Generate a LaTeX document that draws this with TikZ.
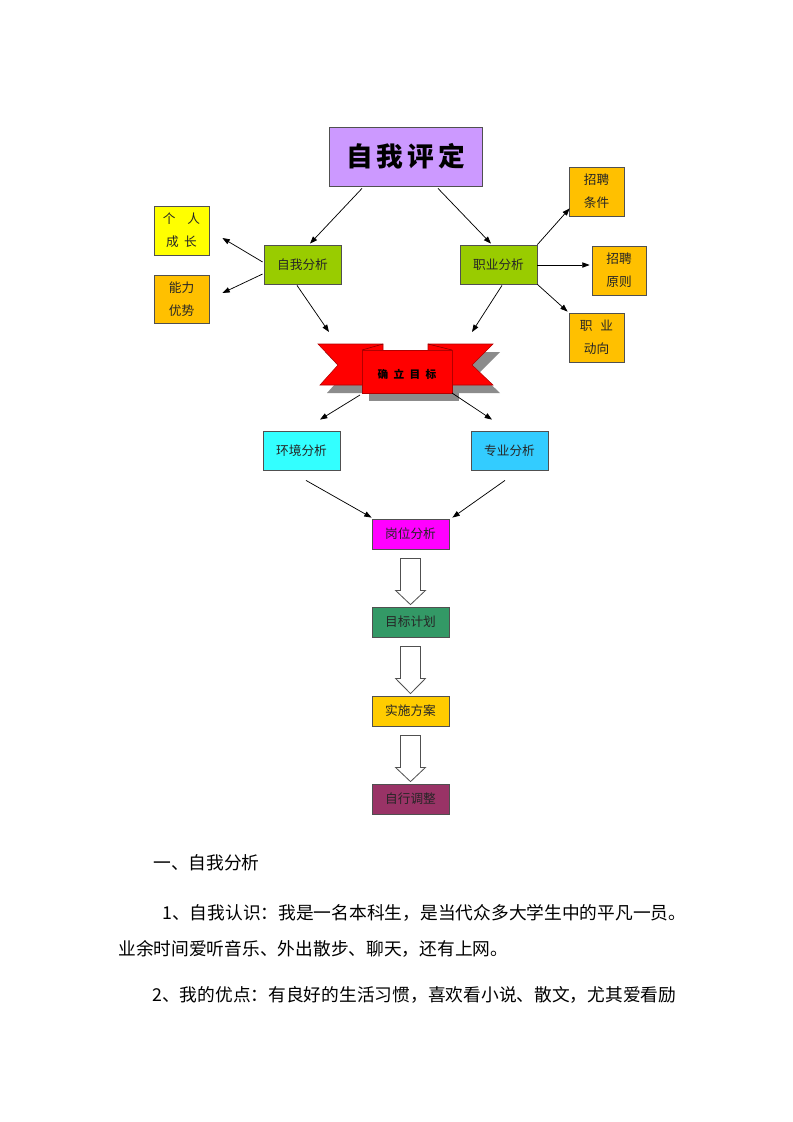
\documentclass[tikz,border=0pt]{standalone}
\usepackage{fontspec}
\setmainfont{Noto Sans CJK SC}
\usetikzlibrary{arrows.meta,calc}
\definecolor{cpurple}{HTML}{CC99FF}
\definecolor{cyel}{HTML}{FFFF00}
\definecolor{corange}{HTML}{FFC000}
\definecolor{cgreen}{HTML}{99CC00}
\definecolor{ccyan}{HTML}{33FFFF}
\definecolor{csky}{HTML}{33CCFF}
\definecolor{cmag}{HTML}{FF00FF}
\definecolor{cdgreen}{HTML}{339966}
\definecolor{cgold}{HTML}{FFCC00}
\definecolor{cplum}{HTML}{993366}
\definecolor{cborder}{HTML}{505050}
\definecolor{ctext}{HTML}{262626}
\newcommand\blockarr[2]{\draw[blk] ($(#1.south)+(-10,9)$) -- ($(#1.south)+(10,9)$) -- ($(#1.south)+(10,41)$) -- ($(#1.south)+(15,41)$) -- ($(#2.north)+(0,-2)$) -- ($(#1.south)+(-15,41)$) -- ($(#1.south)+(-10,41)$) -- cycle;}
\begin{document}
\begin{tikzpicture}[x=0.75pt,y=-0.75pt,
  bx/.style 2 args={draw=cborder, line width=0.6pt, minimum width=#1*0.75pt, minimum height=#2*0.75pt, inner sep=0pt, align=center, font=\fontsize{9.5}{17}\selectfont, text=ctext},
  arr/.style={line width=0.55pt, -{Triangle[length=5.5pt,width=4pt]}},
  blk/.style={draw=cborder, line width=0.6pt, fill=white, line join=miter},
  body/.style={anchor=base west, inner sep=0pt, font=\fontsize{13.3}{16}\selectfont}
]
\fill[white] (0,0) rectangle (793,1122);
% nodes
\node[bx={153}{59}, fill=cpurple, font=\fontsize{20}{24}\selectfont\bfseries, text=black] (top) at (405.5,156.5) {自\hspace{3pt}我\hspace{3pt}评\hspace{3pt}定};
\node[bx={55}{49}, fill=cyel] (gr) at (181.5,230.5) {个\hspace{9pt}人\\成\hspace{4pt}长};
\node[bx={55}{48}, fill=corange] (nl) at (181.5,299) {能力\\优势};
\node[bx={77}{39}, fill=cgreen] (zw) at (302.5,264.5) {自我分析};
\node[bx={77}{39}, fill=cgreen] (zy) at (498.5,264.5) {职业分析};
\node[bx={55}{49}, fill=corange] (tj) at (596.5,191.5) {招聘\\条件};
\node[bx={54}{49}, fill=corange] (yz) at (619,270.5) {招聘\\原则};
\node[bx={55}{49}, fill=corange] (dx) at (596.5,337.5) {职\hspace{6pt}业\\动向};
\node[bx={77}{39}, fill=ccyan] (hj) at (301.5,450.5) {环境分析};
\node[bx={77}{39}, fill=csky] (zf) at (509.5,450.5) {专业分析};
\node[bx={77}{30}, fill=cmag] (gw) at (410.5,534) {岗位分析};
\node[bx={77}{30}, fill=cdgreen] (mb) at (410.5,622) {目标计划};
\node[bx={77}{30}, fill=cgold] (ss) at (410.5,711) {实施方案};
\node[bx={77}{30}, fill=cplum] (zx) at (410.5,799) {自行调整};
% ribbon
\begin{scope}[shift={(7,8)}]
\fill[gray!90] (318,344) -- (383,344) -- (383,350) -- (362,350) -- (362,385) -- (320,385) -- (338,365) -- cycle;
\fill[gray!90] (428,344) -- (493,344) -- (472,365) -- (493,385) -- (452,385) -- (452,350) -- (428,350) -- cycle;
\fill[gray!90] (362,350) rectangle (452,393);
\end{scope}
\filldraw[fill=red, draw=red!70!black, line width=0.4pt] (318,344) -- (383,344) -- (383,385) -- (320,385) -- (338,365) -- cycle;
\filldraw[fill=red, draw=red!70!black, line width=0.4pt] (428,344) -- (493,344) -- (472,365) -- (493,385) -- (428,385) -- cycle;
\filldraw[fill=red, draw=red!70!black, line width=0.4pt] (362,350) rectangle (452,393);
\draw[red!50!black, line width=0.4pt] (362,350) -- (383,344) (452,350) -- (428,344);
\node[inner sep=0pt, font=\fontsize{8}{10}\selectfont\bfseries, text=black] (rb) at (407,374) {确\hspace{4pt}立\hspace{4pt}目\hspace{4pt}标};
% arrows
\draw[arr] ($(top.south)+(-43.5,2)$) -- ($(zw.north)+(7.5,-1)$);
\draw[arr] ($(top.south)+(32.5,2)$) -- ($(zy.north)+(-7.5,-1)$);
\draw[arr] ($(zw.west)+(-1,-2.5)$) -- ($(gr.east)+(13,7.5)$);
\draw[arr] ($(zw.west)+(-1,9.5)$) -- ($(nl.east)+(13,-6)$);
\draw[arr] ($(zw.south)+(-5.5,1)$) -- ($(rb)+(-78,-42)$);
\draw[arr] ($(zy.south)+(3.5,1)$) -- ($(rb)+(65,-42)$);
\draw[arr] (zy.north east) -- ($(tj.south west)+(1,-8)$);
\draw[arr] ($(zy.east)+(0,0.5)$) -- ($(yz.west)+(-2,-5.5)$);
\draw[arr] (zy.south east) -- ($(dx.north west)+(-1,-1)$);
\draw[arr] ($(rb)+(-47,21)$) -- ($(hj.north)+(18.5,-11)$);
\draw[arr] ($(rb)+(45,19)$) -- ($(zf.north)+(-17.5,-11)$);
\draw[arr] ($(hj.south)+(4.5,10)$) -- ($(gw.north west)+(0,-1)$);
\draw[arr] ($(zf.south)+(-4.5,10)$) -- ($(gw.north east)+(3,-1)$);
\blockarr{gw}{mb}
\blockarr{mb}{ss}
\blockarr{ss}{zx}
% body text
\node[body] (t1) at (153,869) {一、自我分析};
\node[body] (t2) at (162,919) {1、自我认识：我是一名本科生，是当代众多大学生中的平凡一员。};
\node[body] (t3) at (118,955) {业余时间爱听音乐、外出散步、聊天，还有上网。};
\node[body] (t4) at (152,1001) {2、我的优点：有良好的生活习惯，喜欢看小说、散文，尤其爱看励};
\end{tikzpicture}
\end{document}
